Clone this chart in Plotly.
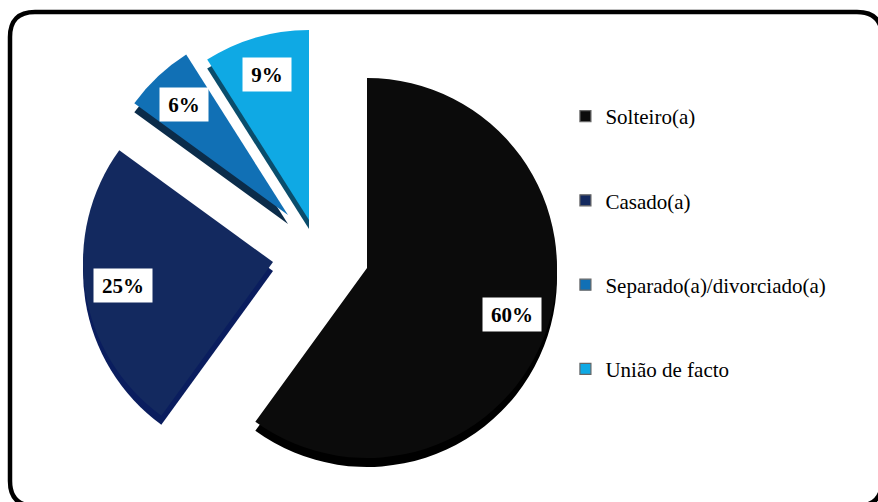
import math
import plotly.graph_objects as go

# Marital status distribution (percent of respondents)
categories = ["Solteiro(a)", "Casado(a)", "Separado(a)/divorciado(a)", "União de facto"]
shares = [60, 25, 6, 9]

# Face and side (3-D depth) colours for each slice
top_colors = ["#0b0b0b", "#13295f", "#1170b5", "#0fa9e4"]
side_colors = ["#000000", "#0a1d5e", "#0b2c4a", "#0a4d6c"]

# Canvas / pie geometry in pixels
W, H = 878, 502
CX, CY, R = 367, 268, 190
DEPTH = 9
# Per-slice explosion offsets (pixels) of each wedge's apex from the pie centre
explode_px = [(0, 0), (-94, -6), (-79, -53), (-58, -48)]

FONT = "Liberation Serif, Times New Roman, Times, serif"


def domain(cx, cy):
    return dict(x=[(cx - R) / W, (cx + R) / W],
                y=[1 - (cy + R) / H, 1 - (cy - R) / H])


def wedge(i, colors, dy):
    cols = ["rgba(0,0,0,0)"] * len(shares)
    cols[i] = colors[i]
    ox, oy = explode_px[i]
    return go.Pie(
        labels=categories, values=shares, sort=False, direction="clockwise",
        rotation=0, marker=dict(colors=cols, line=dict(width=0)),
        textinfo="none", hoverinfo="skip", showlegend=False,
        domain=domain(CX + ox, CY + oy + dy),
    )


fig = go.Figure()

# Side walls first, then the top faces over them
for i in range(len(shares)):
    fig.add_trace(wedge(i, side_colors, DEPTH))
for i in range(len(shares)):
    fig.add_trace(wedge(i, top_colors, 0))

# Legend entries
for i, name in enumerate(categories):
    fig.add_trace(go.Scatter(
        x=[None], y=[None], mode="markers", name=name, legendgroup=name,
        marker=dict(symbol="square", size=11, color=top_colors[i],
                    line=dict(color="#666666", width=1.2)),
    ))

# Percentage labels placed along each wedge's bisector
total = sum(shares)
start = 0.0
annotations = []
for i, v in enumerate(shares):
    mid = math.radians((start + v / 2) / total * 360)
    start += v
    ox, oy = explode_px[i]
    px = CX + ox + 0.8 * R * math.sin(mid)
    py = CY + oy - 0.8 * R * math.cos(mid)
    annotations.append(dict(
        x=px / W, y=1 - py / H, xref="paper", yref="paper",
        text=f"<b>{v}%</b>", showarrow=False,
        font=dict(family=FONT, size=21, color="black"),
        bgcolor="white", borderpad=0,
        width=58 if v >= 10 else 48, height=33,
        xanchor="center", yanchor="middle",
    ))

# Rounded outer frame
fx0, fy0, fx1, fy1, rad = 10, 12, 882, 506, 25


def P(x, y):
    return f"{x / W:.5f},{1 - y / H:.5f}"


frame_path = (
    f"M {P(fx0 + rad, fy0)} L {P(fx1 - rad, fy0)} Q {P(fx1, fy0)} {P(fx1, fy0 + rad)} "
    f"L {P(fx1, fy1 - rad)} Q {P(fx1, fy1)} {P(fx1 - rad, fy1)} "
    f"L {P(fx0 + rad, fy1)} Q {P(fx0, fy1)} {P(fx0, fy1 - rad)} "
    f"L {P(fx0, fy0 + rad)} Q {P(fx0, fy0)} {P(fx0 + rad, fy0)} Z"
)

fig.update_layout(
    width=W, height=H,
    margin=dict(l=0, r=0, t=0, b=0),
    paper_bgcolor="white", plot_bgcolor="white",
    xaxis=dict(visible=False), yaxis=dict(visible=False),
    annotations=annotations,
    shapes=[dict(type="path", path=frame_path, xref="paper", yref="paper",
                 line=dict(color="black", width=4.5))],
    legend=dict(x=0.644, y=0.809, xanchor="left", yanchor="top",
                font=dict(family=FONT, size=21, color="black"),
                tracegroupgap=54, bgcolor="rgba(0,0,0,0)"),
    showlegend=True,
)

fig.write_html("out.html")
